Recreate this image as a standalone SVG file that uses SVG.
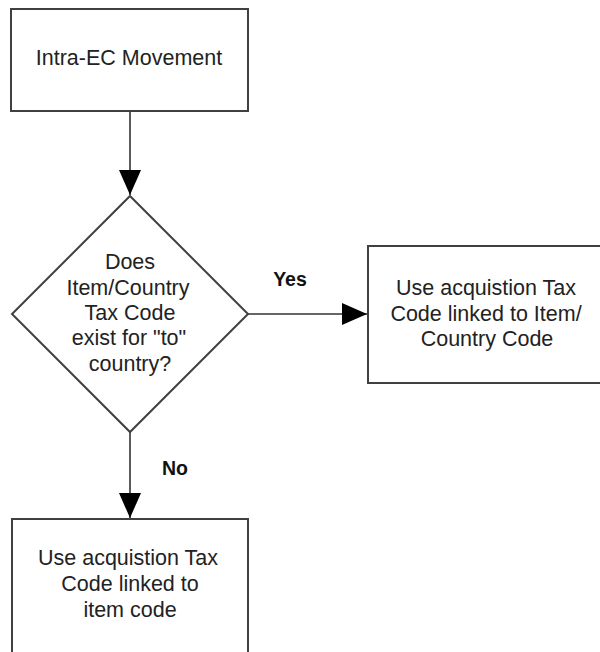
<svg xmlns="http://www.w3.org/2000/svg" width="600" height="652" viewBox="0 0 600 652">
  <defs>
    <style>
      .box { fill: #ffffff; stroke: #404040; stroke-width: 2; }
      .edge { fill: none; stroke: #333333; stroke-width: 1.6; }
      .txt { font-family: "Liberation Sans", Arial, sans-serif; font-size: 21.5px; fill: #222222; text-anchor: middle; }
      .lbl { font-family: "Liberation Sans", Arial, sans-serif; font-size: 19.5px; font-weight: bold; fill: #111111; text-anchor: middle; }
    </style>
    <marker id="arrow" viewBox="0 0 25 22" refX="25" refY="11" markerWidth="25" markerHeight="22" markerUnits="userSpaceOnUse" orient="auto">
      <path d="M0,0 L25,11 L0,22 Z" fill="#000000"/>
    </marker>
  </defs>

  <rect x="0" y="0" width="600" height="652" fill="#ffffff"/>

  <!-- connectors -->
  <g id="connectors">
    <line class="edge" x1="130" y1="111" x2="130" y2="195" marker-end="url(#arrow)"/>
    <line class="edge" x1="248" y1="314" x2="367" y2="314" marker-end="url(#arrow)"/>
    <line class="edge" x1="130" y1="432" x2="130" y2="518" marker-end="url(#arrow)"/>
    <text class="lbl" x="290" y="286">Yes</text>
    <text class="lbl" x="175" y="475">No</text>
  </g>

  <!-- start -->
  <g id="start">
    <rect class="box" x="11" y="9" width="237" height="102"/>
    <text class="txt" x="129" y="65">Intra-EC Movement</text>
  </g>

  <!-- decision -->
  <g id="decision">
    <polygon class="box" points="130,196 248,314 130,432 12,314"/>
    <text class="txt" x="130" y="269">Does</text>
    <text class="txt" x="128" y="295">Item/Country</text>
    <text class="txt" x="130" y="320">Tax Code</text>
    <text class="txt" x="129" y="345">exist for "to"</text>
    <text class="txt" x="130" y="371">country?</text>
  </g>

  <!-- yes branch -->
  <g id="use-item-country">
    <rect class="box" x="368" y="246" width="240" height="137"/>
    <text class="txt" x="486" y="295">Use acquistion Tax</text>
    <text class="txt" x="486" y="321">Code linked to Item/</text>
    <text class="txt" x="487" y="346">Country Code</text>
  </g>

  <!-- no branch -->
  <g id="use-item">
    <rect class="box" x="12" y="519" width="236" height="150"/>
    <text class="txt" x="128" y="565">Use acquistion Tax</text>
    <text class="txt" x="130" y="591">Code linked to</text>
    <text class="txt" x="130" y="617">item code</text>
  </g>
</svg>
